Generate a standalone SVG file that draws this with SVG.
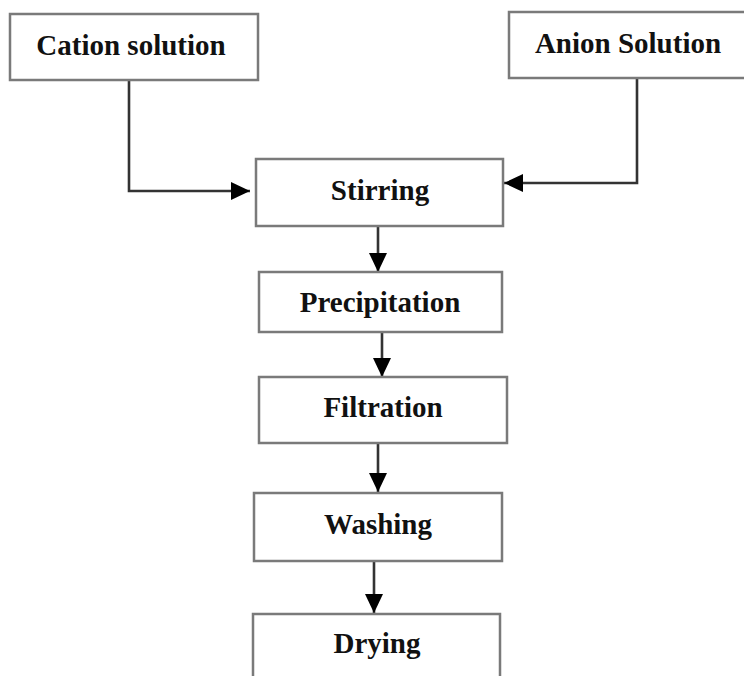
<svg xmlns="http://www.w3.org/2000/svg" width="744" height="676" viewBox="0 0 744 676">
<style>
.box{fill:#ffffff;stroke:#7a7a7a;stroke-width:2.5}
.lbl{font-family:"Liberation Serif","Times New Roman",serif;font-weight:bold;font-size:29px;fill:#111111;text-anchor:middle}
.con{fill:none;stroke:#333333;stroke-width:2.6;marker-end:url(#ah)}
</style>
<defs>
<marker id="ah" markerUnits="userSpaceOnUse" markerWidth="20" markerHeight="20" viewBox="0 0 20 20" refX="19" refY="10" orient="auto">
<path d="M0,1 L19,10 L0,19 z" fill="#000000"/>
</marker>
</defs>
<rect width="744" height="676" fill="#ffffff"/>
<g id="connectors">
<path class="con" d="M129,80 V191 H250"/>
<path class="con" d="M637,78 V183 H504"/>
<path class="con" d="M378,226 V272"/>
<path class="con" d="M382,332 V377"/>
<path class="con" d="M378,443 V492"/>
<path class="con" d="M374,561 V613"/>
</g>
<g id="cation">
<rect class="box" x="10" y="14" width="248" height="66"/>
<text class="lbl" x="131" y="55">Cation solution</text>
</g>
<g id="anion">
<rect class="box" x="509" y="12" width="250" height="66"/>
<text class="lbl" x="628" y="53">Anion Solution</text>
</g>
<g id="stirring">
<rect class="box" x="256" y="159" width="247" height="67"/>
<text class="lbl" x="380" y="200">Stirring</text>
</g>
<g id="precipitation">
<rect class="box" x="259" y="272" width="243" height="60"/>
<text class="lbl" x="380" y="312">Precipitation</text>
</g>
<g id="filtration">
<rect class="box" x="259" y="377" width="248" height="66"/>
<text class="lbl" x="383" y="417">Filtration</text>
</g>
<g id="washing">
<rect class="box" x="254" y="493" width="248" height="68"/>
<text class="lbl" x="378" y="534">Washing</text>
</g>
<g id="drying">
<rect class="box" x="253" y="614" width="247" height="80"/>
<text class="lbl" x="377" y="653">Drying</text>
</g>
</svg>
